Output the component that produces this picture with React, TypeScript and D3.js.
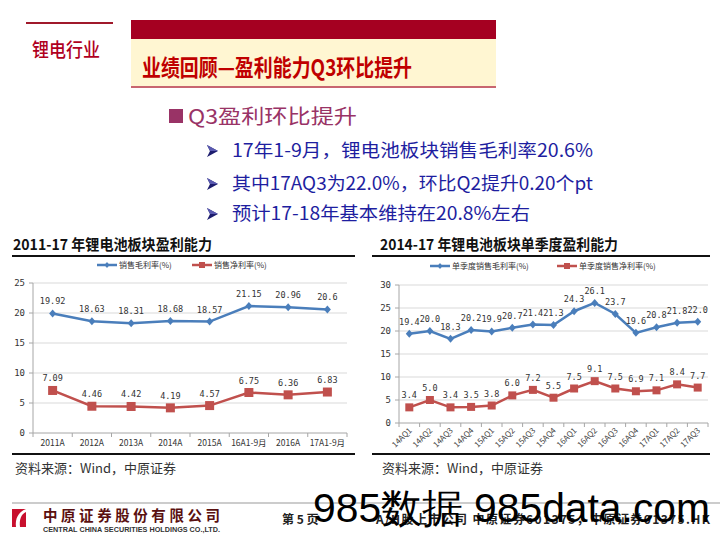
import React from "react";
import * as d3 from "d3";

const leftCats = ["2011A", "2012A", "2013A", "2014A", "2015A", "16A1-9月", "2016A", "17A1-9月"];
const leftGross = [19.92, 18.63, 18.31, 18.68, 18.57, 21.15, 20.96, 20.6];
const leftNet = [7.09, 4.46, 4.42, 4.19, 4.57, 6.75, 6.36, 6.83];
const leftTicks = [0, 5, 10, 15, 20, 25];

const rightCats = ["14AQ1", "14AQ2", "14AQ3", "14AQ4", "15AQ1", "15AQ2", "15AQ3", "15AQ4", "16AQ1", "16AQ2", "16AQ3", "16AQ4", "17AQ1", "17AQ2", "17AQ3"];
const rightGross = [19.4, 20.0, 18.3, 20.2, 19.9, 20.7, 21.4, 21.3, 24.3, 26.1, 23.7, 19.6, 20.8, 21.8, 22.0];
const rightNet = [3.4, 5.0, 3.4, 3.5, 3.8, 6.0, 7.2, 5.5, 7.5, 9.1, 7.5, 6.9, 7.1, 8.4, 7.7];
const rightTicks = [0, 5, 10, 15, 20, 25, 30];

const bullets = [
  "17年1-9月，锂电池板块销售毛利率20.6%",
  "其中17AQ3为22.0%，环比Q2提升0.20个pt",
  "预计17-18年基本维持在20.8%左右",
];

const CJK = "'Noto Sans CJK SC', 'DejaVu Sans', sans-serif";
const MONO = "'DejaVu Sans Mono', 'Noto Sans CJK SC', monospace";
const BLUE = "#4A7EBB";
const RED = "#C0504D";

const diamond = "M0,-4L3.5,0L0,4L-3.5,0Z";

type ChartProps = {
  x0: number; x1: number; yTop: number; yBottom: number; max: number;
  cats: string[]; gross: number[]; net: number[]; ticks: number[];
  fmt: (v: number) => string; rotate: boolean; sq: number;
};

function LineChart(p: ChartProps) {
  const x = d3.scaleBand<string>().domain(p.cats).range([p.x0, p.x1]);
  const y = d3.scaleLinear().domain([0, p.max]).range([p.yBottom, p.yTop]);
  const bw = x.bandwidth();
  const cx = (c: string) => (x(c) as number) + bw / 2;
  const line = d3.line<number>().x((_, i) => cx(p.cats[i])).y((v) => y(v));
  const bounds = [...p.cats.map((c) => x(c) as number), p.x1];
  return (
    <g>
      {p.ticks.map((t) => (
        <g key={t}>
          {t > 0 && <line x1={p.x0} x2={p.x1} y1={y(t)} y2={y(t)} stroke="#D9D9D9" strokeWidth={1} />}
          <line x1={p.x0 - 4} x2={p.x0} y1={y(t)} y2={y(t)} stroke="#A6A6A6" />
          <text x={p.x0 - 8} y={y(t) + 3} textAnchor="end" fontSize={9} fontFamily={MONO} fill="#333">{t}</text>
        </g>
      ))}
      <line x1={p.x0} x2={p.x0} y1={p.yTop} y2={p.yBottom} stroke="#A6A6A6" />
      <line x1={p.x0} x2={p.x1} y1={p.yBottom} y2={p.yBottom} stroke="#A6A6A6" />
      {bounds.map((b, i) => (
        <line key={i} x1={b} x2={b} y1={p.yBottom} y2={p.yBottom + 4} stroke="#A6A6A6" />
      ))}
      {p.cats.map((c) =>
        p.rotate ? (
          <text key={c} transform={`translate(${cx(c) + 3},${p.yBottom + 8}) rotate(-45)`} textAnchor="end" fontSize={8} fontFamily={CJK} fill="#444">{c}</text>
        ) : (
          <text key={c} x={cx(c)} y={p.yBottom + 13} textAnchor="middle" fontSize={8.5} fontFamily={CJK} fill="#333">{c}</text>
        )
      )}
      <path d={line(p.gross) || ""} fill="none" stroke={BLUE} strokeWidth={2.5} />
      <path d={line(p.net) || ""} fill="none" stroke={RED} strokeWidth={2.5} />
      {p.gross.map((v, i) => (
        <g key={"g" + i}>
          <path d={diamond} transform={`translate(${cx(p.cats[i])},${y(v)})`} fill={BLUE} />
          <text x={cx(p.cats[i])} y={y(v) - 9} textAnchor="middle" fontSize={8.5} fontFamily={MONO} fill="#333">{p.fmt(v)}</text>
        </g>
      ))}
      {p.net.map((v, i) => (
        <g key={"n" + i}>
          <rect x={cx(p.cats[i]) - p.sq / 2} y={y(v) - p.sq / 2} width={p.sq} height={p.sq} fill={RED} />
          <text x={cx(p.cats[i])} y={y(v) - 9} textAnchor="middle" fontSize={8.5} fontFamily={MONO} fill="#333">{p.fmt(v)}</text>
        </g>
      ))}
    </g>
  );
}

function Legend({ x, y, label, color, square }: { x: number; y: number; label: string; color: string; square: boolean }) {
  return (
    <g>
      <line x1={x} x2={x + 20} y1={y} y2={y} stroke={color} strokeWidth={2.5} />
      {square ? (
        <rect x={x + 7} y={y - 3} width={6} height={6} fill={color} />
      ) : (
        <path d="M0,-3L2.5,0L0,3L-2.5,0Z" transform={`translate(${x + 10},${y})`} fill={color} />
      )}
      <text x={x + 22} y={y + 3} fontSize={8} fontFamily={CJK} fill="#333">{label}</text>
    </g>
  );
}

function Arrow({ x, y }: { x: number; y: number }) {
  return (
    <g transform={`translate(${x},${y})`}>
      <path d="M0,-6L11,0L0,6L3,0Z" fill="#1C1C6E" />
      <path d="M0,-6L11,0L3,0Z" fill="#5A5AB0" />
    </g>
  );
}

export default function App() {
  const bulletLens = [361, 361, 298];
  const bulletY = [157, 190, 220];
  return (
    <svg width={720} height={540} style={{ position: "absolute", left: 0, top: 0, display: "block", background: "#fff" }}>
      <rect width={720} height={540} fill="#fff" />
      {/* header */}
      <line x1={26} x2={113} y1={23} y2={23} stroke="#A0192B" strokeWidth={2} />
      <text x={32} y={57} fontSize={19} fontFamily={CJK} fontWeight={500} fill="#B0001E" textLength={68} lengthAdjust="spacingAndGlyphs">锂电行业</text>
      <rect x={131} y={20} width={365} height={19} fill="#A50021" />
      <rect x={131} y={39} width={365} height={48} fill="#FFF6D2" />
      <rect x={131} y={86} width={365} height={2} fill="#C86670" />
      <text x={142} y={76} fontSize={23} fontFamily={CJK} fontWeight={700} fill="#C00000" textLength={270} lengthAdjust="spacingAndGlyphs">业绩回顾—盈利能力Q3环比提升</text>

      {/* section heading */}
      <rect x={169} y={109} width={14} height={14} fill="#993366" />
      <text x={188} y={124} fontSize={20} fontFamily={CJK} fill="#993366" textLength={169} lengthAdjust="spacingAndGlyphs">Q3盈利环比提升</text>
      {bullets.map((b, i) => (
        <g key={i}>
          <Arrow x={207} y={bulletY[i] - 6} />
          <text x={232} y={bulletY[i]} fontSize={18} fontFamily={CJK} fill="#1E1EA0" textLength={bulletLens[i]} lengthAdjust="spacingAndGlyphs">{b}</text>
        </g>
      ))}

      {/* left chart */}
      <text x={13} y={250} fontSize={15} fontWeight={700} fontFamily={CJK} fill="#111" textLength={199} lengthAdjust="spacingAndGlyphs">2011-17 年锂电池板块盈利能力</text>
      <line x1={12} x2={355} y1={256} y2={256} stroke="#111" strokeWidth={2} />
      <Legend x={97} y={265} label="销售毛利率(%)" color={BLUE} square={false} />
      <Legend x={192} y={265} label="销售净利率(%)" color={RED} square={true} />
      <LineChart x0={33} x1={347} yTop={283} yBottom={433} max={25} cats={leftCats} gross={leftGross} net={leftNet} ticks={leftTicks} fmt={(v) => String(v)} rotate={false} sq={9} />
      <line x1={12} x2={355} y1={454} y2={454} stroke="#111" strokeWidth={2} />
      <text x={15} y={473} fontSize={13} fontFamily={CJK} fill="#333">资料来源：Wind，中原证券</text>

      {/* right chart */}
      <text x={380} y={250} fontSize={15} fontWeight={700} fontFamily={CJK} fill="#111" textLength={238} lengthAdjust="spacingAndGlyphs">2014-17 年锂电池板块单季度盈利能力</text>
      <line x1={372} x2={710} y1={256} y2={256} stroke="#111" strokeWidth={2} />
      <Legend x={430} y={266} label="单季度销售毛利率(%)" color={BLUE} square={false} />
      <Legend x={557} y={266} label="单季度销售净利率(%)" color={RED} square={true} />
      <LineChart x0={399} x1={708} yTop={285} yBottom={423} max={30} cats={rightCats} gross={rightGross} net={rightNet} ticks={rightTicks} fmt={(v) => v.toFixed(1)} rotate={true} sq={8} />
      <line x1={372} x2={710} y1={454} y2={454} stroke="#111" strokeWidth={2} />
      <text x={382} y={473} fontSize={13} fontFamily={CJK} fill="#333">资料来源：Wind，中原证券</text>

      {/* footer */}
      <line x1={12} x2={720} y1={503} y2={503} stroke="#999" strokeWidth={1} />
      <rect x={12} y={509} width={14} height={18} fill="#C8102E" />
      <path d="M26,509 C18,512 15,519 16,527 L20,527 C19,520 21,514 26,512 Z" fill="#fff" />
      <text x={43} y={521} fontSize={14.5} fontFamily={CJK} fontWeight={700} fill="#5A1010" textLength={177} lengthAdjust="spacing">中原证券股份有限公司</text>
      <text x={43} y={532} fontSize={6.5} fontFamily="'Liberation Sans', sans-serif" fontWeight={700} fill="#333" textLength={177} lengthAdjust="spacingAndGlyphs">CENTRAL CHINA SECURITIES HOLDINGS CO.,LTD.</text>
      <text x={282} y={524} fontSize={12} fontFamily={CJK} fontWeight={700} fill="#222">第 5 页</text>
      <text x={376} y={524} fontSize={12} fontFamily={CJK} fontWeight={700} fill="#222" textLength={334} lengthAdjust="spacing">A/H股上市公司 中原证券601375，中原证券01375.HK</text>
      <text x={313} y={522} fontSize={40} fontFamily="'Liberation Sans', Arial, sans-serif" fill="#000" textLength={397} lengthAdjust="spacingAndGlyphs">985数据 985data.com</text>
    </svg>
  );
}
